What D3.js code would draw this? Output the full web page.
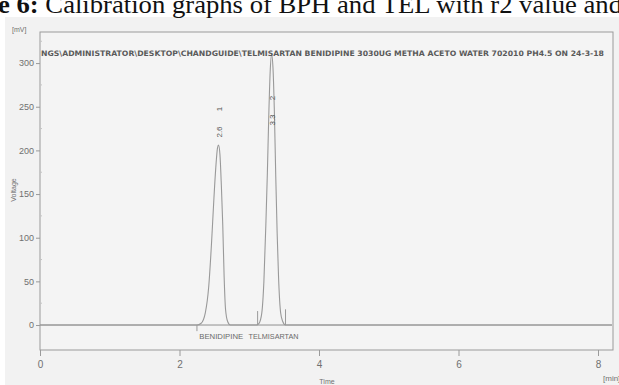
<!DOCTYPE html>
<html>
<head>
<meta charset="utf-8">
<script src="https://cdn.jsdelivr.net/npm/d3@7"></script>
<style>
  body { margin: 0; background: #ffffff; }
  svg { display: block; }
</style>
</head>
<body>
<script>
var SVG_WIDTH = 619;
var SVG_HEIGHT = 385;

// chromatogram trace (time in min, signal in mV)
var trace_time = [0, 2.25, 2.31, 2.37, 2.42, 2.46, 2.49, 2.52, 2.545, 2.56, 2.58, 2.60, 2.62, 2.64, 2.66, 2.69, 2.73,
                  3.10, 3.14, 3.18, 3.21, 3.24, 3.26, 3.28, 3.30, 3.32, 3.34, 3.36, 3.38, 3.40, 3.42, 3.45, 3.48, 3.52, 8.2];
var trace_mv   = [0, 0, 2, 14, 45, 95, 140, 180, 203, 206, 195, 160, 115, 55, 18, 4, 0,
                  0, 2, 14, 50, 120, 175, 240, 290, 310, 295, 245, 170, 105, 55, 14, 4, 0, 0];

// peaks: names, retention times, peak numbers
var peak_names = ["BENIDIPINE", "TELMISARTAN"];
var peak_times = [2.57, 3.32];
var peak_numbers = ["1", "2"];
var peak_labels = ["2.6", "3.3"];

// integration markers (time, height in mV)
var marker_times = [2.25, 3.12, 3.52];
var marker_mv = [-7, 16, 18];

var y_ticks = [0, 50, 100, 150, 200, 250, 300];
var y_minor = [25, 75, 125, 175, 225, 275, 325];
var x_ticks = [0, 2, 4, 6, 8];

var header_text = "NGS\\ADMINISTRATOR\\DESKTOP\\CHANDGUIDE\\TELMISARTAN BENIDIPINE 3030UG METHA ACETO WATER 702010 PH4.5 ON 24-3-18";
var caption_bold = "e 6:";
var caption_text = " Calibration graphs of BPH and TEL with r2 value and";

var frame = {left: 40, right: 613, top: 32, bottom: 350};
var grey_line = "#9a9a9a";
var grey_text = "#707070";

var svg = d3.select("body").append("svg")
            .attr("width", SVG_WIDTH)
            .attr("height", SVG_HEIGHT);

// scanned picture background
svg.append("rect")
   .attr("x", 5).attr("y", 17)
   .attr("width", SVG_WIDTH - 5).attr("height", SVG_HEIGHT - 17)
   .style("fill", "#f2f2f2");

// caption cut at the top
var cap = svg.append("text")
   .attr("x", -2).attr("y", 13)
   .attr("textLength", 624)
   .attr("lengthAdjust", "spacingAndGlyphs")
   .style("font-family", "'Liberation Serif', serif")
   .style("font-size", "25px")
   .style("fill", "#111");
cap.append("tspan").style("font-weight", "bold").text(caption_bold);
cap.append("tspan").text(caption_text);

var x = d3.scaleLinear().domain([0, 8.215]).range([frame.left, frame.right]);
var y = d3.scaleLinear().domain([-28.6, 335.6]).range([frame.bottom, frame.top]);

// frame
svg.append("rect")
   .attr("x", frame.left).attr("y", frame.top)
   .attr("width", frame.right - frame.left)
   .attr("height", frame.bottom - frame.top)
   .style("fill", "#f4f4f4")
   .style("stroke", grey_line)
   .style("stroke-width", 1);

// y axis
var y_axis = svg.append("g")
   .attr("transform", "translate(" + frame.left + ",0)")
   .call(d3.axisLeft(y).tickValues(y_ticks).tickSize(4).tickPadding(2));
y_axis.select(".domain").remove();
y_axis.selectAll("line").style("stroke", grey_line);
y_axis.selectAll("text")
      .style("font-family", "'Liberation Sans', sans-serif")
      .style("font-size", "9px")
      .style("fill", grey_text);

svg.append("g").selectAll("line").data(y_minor).enter()
   .append("line")
   .attr("x1", frame.left).attr("x2", frame.left + 2)
   .attr("y1", function(d) { return y(d); })
   .attr("y2", function(d) { return y(d); })
   .style("stroke", "#c4c4c4");

// x axis
var x_axis = svg.append("g")
   .attr("transform", "translate(0," + frame.bottom + ")")
   .call(d3.axisBottom(x).tickValues(x_ticks).tickSize(6).tickPadding(5).tickFormat(d3.format("d")));
x_axis.select(".domain").remove();
x_axis.selectAll("line").style("stroke", grey_line);
x_axis.selectAll("text")
      .style("font-family", "'Liberation Sans', sans-serif")
      .style("font-size", "10px")
      .style("fill", grey_text);

// axis titles
svg.append("text").attr("x", 12).attr("y", 32).text("[mV]")
   .style("font-family", "'Liberation Sans', sans-serif").style("font-size", "7px").style("fill", grey_text);
svg.append("text").attr("x", 603).attr("y", 381).text("[min]")
   .style("font-family", "'Liberation Sans', sans-serif").style("font-size", "8px").style("fill", grey_text);
svg.append("text").attr("x", 327).attr("y", 384).attr("text-anchor", "middle").text("Time")
   .style("font-family", "'Liberation Sans', sans-serif").style("font-size", "7px").style("fill", grey_text);
svg.append("text")
   .attr("transform", "translate(16,190) rotate(-90)")
   .attr("text-anchor", "middle").text("Voltage")
   .style("font-family", "'Liberation Sans', sans-serif").style("font-size", "7px").style("fill", grey_text);

// baseline line across the plot
svg.append("line")
   .attr("x1", frame.left).attr("x2", x(8.2))
   .attr("y1", y(0)).attr("y2", y(0))
   .style("stroke", "#8f8f8f");

// trace
var trace = trace_time.map(function(t, i) { return [t, trace_mv[i]]; });
svg.append("path")
   .datum(trace)
   .attr("d", d3.line()
               .x(function(d) { return x(d[0]); })
               .y(function(d) { return y(d[1]); })
               .curve(d3.curveMonotoneX))
   .style("fill", "none")
   .style("stroke", "#999")
   .style("stroke-width", 1.1);

// integration markers
svg.append("g").selectAll("line").data(marker_times).enter()
   .append("line")
   .attr("x1", function(d) { return x(d); })
   .attr("x2", function(d) { return x(d); })
   .attr("y1", y(0))
   .attr("y2", function(d, i) { return y(marker_mv[i]); })
   .style("stroke", "#9a9a9a");

// header text
svg.append("text")
   .attr("x", 41).attr("y", 56)
   .attr("textLength", 563)
   .attr("lengthAdjust", "spacingAndGlyphs")
   .text(header_text)
   .style("font-family", "'DejaVu Sans', sans-serif")
   .style("font-size", "7.5px")
   .style("font-weight", "bold")
   .style("fill", "#5a5a5a");

// peak annotations
var peaks = svg.append("g");
peak_times.forEach(function(t, i) {
  var px = x(t) + 3;
  peaks.append("text")
       .attr("transform", "translate(" + px + "," + (i == 0 ? 132 : 120) + ") rotate(-90)")
       .attr("text-anchor", "middle")
       .text(peak_labels[i])
       .style("font-family", "'Liberation Sans', sans-serif")
       .style("font-size", "8px")
       .style("fill", "#555");
  peaks.append("text")
       .attr("transform", "translate(" + px + "," + (i == 0 ? 109 : 98) + ") rotate(-90)")
       .attr("text-anchor", "middle")
       .text(peak_numbers[i])
       .style("font-family", "'Liberation Sans', sans-serif")
       .style("font-size", "8px")
       .style("fill", "#555");
  peaks.append("text")
       .attr("x", x(t) + 2).attr("y", 339)
       .attr("text-anchor", "middle")
       .attr("textLength", i == 0 ? 44 : 50)
       .attr("lengthAdjust", "spacingAndGlyphs")
       .text(peak_names[i])
       .style("font-family", "'Liberation Sans', sans-serif")
       .style("font-size", "7px")
       .style("fill", "#6a6a6a");
});
</script>
</body>
</html>
